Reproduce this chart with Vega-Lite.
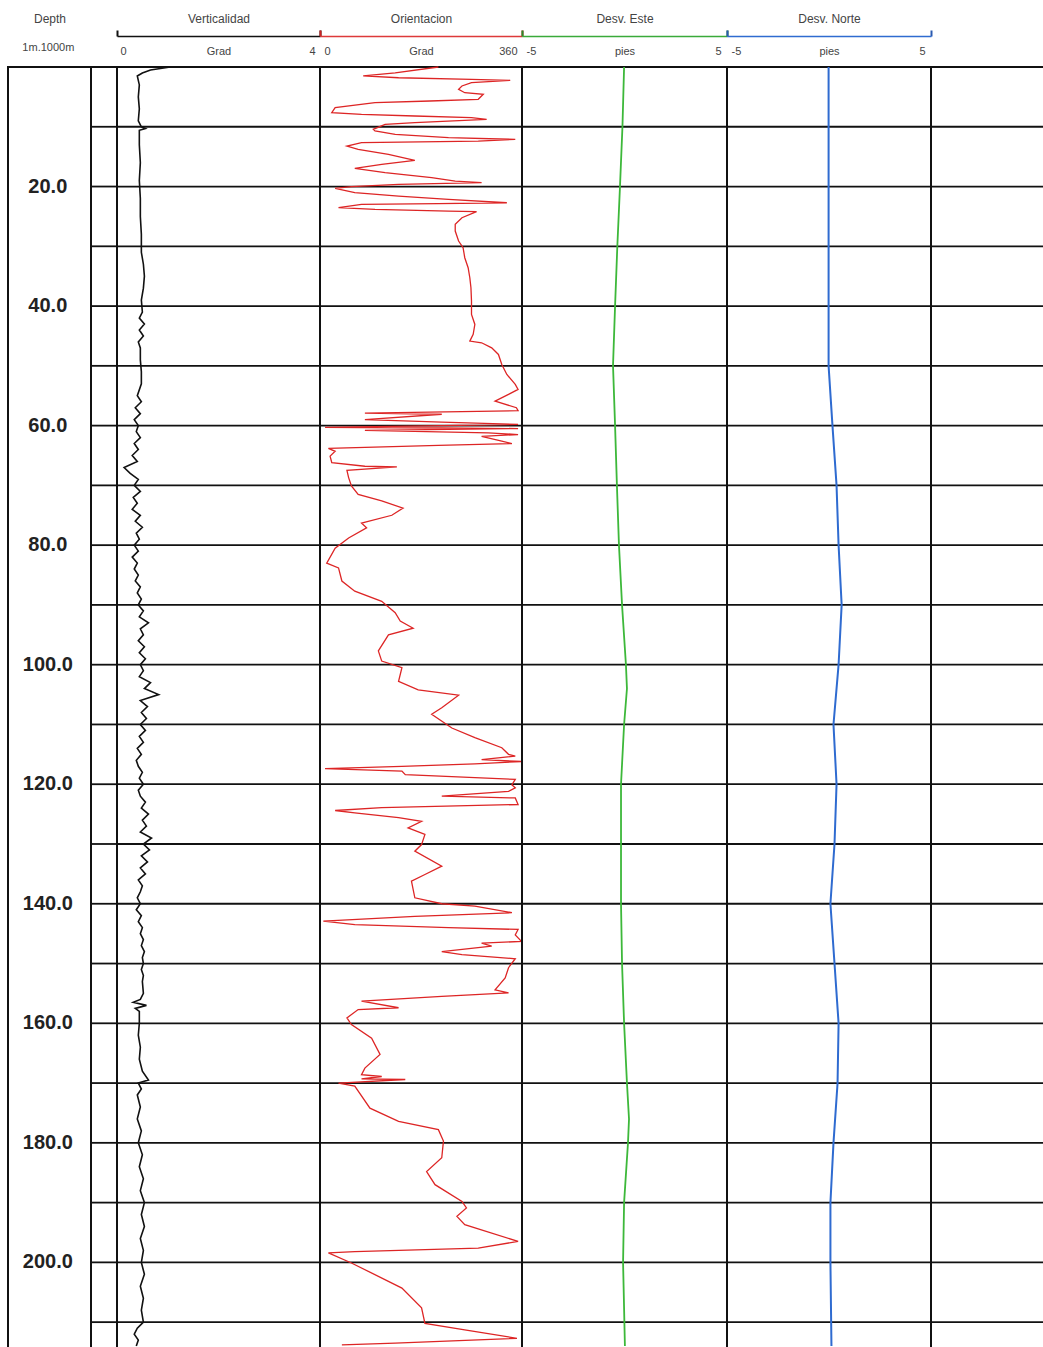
{
"$schema": "https://vega.github.io/schema/vega-lite/v6.json",
"autosize": {"type": "pad"},
"padding": {"left": 7, "top": 11, "right": 0, "bottom": 0},
"background": "white",
"spacing": 0,
"bounds": "flush",
"config": {
  "view": {"stroke": "#111", "strokeWidth": 2},
  "axis": {"labelFont": "Liberation Sans", "titleFont": "Liberation Sans", "labelColor": "#444", "titleColor": "#444", "labelFontSize": 11, "titleFontSize": 12, "titleFontWeight": "normal", "grid": false}
},
"datasets": {
  "grid": [{"depth":10},{"depth":20},{"depth":30},{"depth":40},{"depth":50},{"depth":60},{"depth":70},{"depth":80},{"depth":90},{"depth":100},{"depth":110},{"depth":120},{"depth":130},{"depth":140},{"depth":150},{"depth":160},{"depth":170},{"depth":180},{"depth":190},{"depth":200},{"depth":210}],
  "depthlabels": [{"depth":20,"label":"20.0"},{"depth":40,"label":"40.0"},{"depth":60,"label":"60.0"},{"depth":80,"label":"80.0"},{"depth":100,"label":"100.0"},{"depth":120,"label":"120.0"},{"depth":140,"label":"140.0"},{"depth":160,"label":"160.0"},{"depth":180,"label":"180.0"},{"depth":200,"label":"200.0"}],
  "verticalidad": [{"depth":0,"value":1.05},{"depth":0.5,"value":0.66},{"depth":1,"value":0.5},{"depth":1.5,"value":0.4},{"depth":3,"value":0.44},{"depth":5,"value":0.42},{"depth":7,"value":0.44},{"depth":9,"value":0.42},{"depth":10,"value":0.48},{"depth":10.3,"value":0.56},{"depth":10.6,"value":0.44},{"depth":13,"value":0.44},{"depth":16,"value":0.46},{"depth":19,"value":0.44},{"depth":22,"value":0.46},{"depth":25,"value":0.46},{"depth":28,"value":0.48},{"depth":31,"value":0.48},{"depth":33,"value":0.52},{"depth":35,"value":0.54},{"depth":37,"value":0.52},{"depth":39,"value":0.48},{"depth":41,"value":0.5},{"depth":42,"value":0.44},{"depth":43,"value":0.54},{"depth":44,"value":0.44},{"depth":45,"value":0.52},{"depth":46,"value":0.42},{"depth":47,"value":0.46},{"depth":49,"value":0.46},{"depth":51,"value":0.48},{"depth":53,"value":0.48},{"depth":55,"value":0.4},{"depth":56,"value":0.48},{"depth":57,"value":0.36},{"depth":58,"value":0.46},{"depth":59,"value":0.34},{"depth":60,"value":0.42},{"depth":61,"value":0.38},{"depth":62,"value":0.46},{"depth":63,"value":0.34},{"depth":64,"value":0.42},{"depth":65,"value":0.3},{"depth":66,"value":0.4},{"depth":67,"value":0.14},{"depth":68,"value":0.26},{"depth":69,"value":0.42},{"depth":70,"value":0.34},{"depth":71,"value":0.46},{"depth":72,"value":0.32},{"depth":73,"value":0.4},{"depth":74,"value":0.3},{"depth":75,"value":0.46},{"depth":76,"value":0.36},{"depth":77,"value":0.5},{"depth":78,"value":0.38},{"depth":79,"value":0.44},{"depth":80,"value":0.34},{"depth":81,"value":0.42},{"depth":82,"value":0.3},{"depth":83,"value":0.4},{"depth":84,"value":0.34},{"depth":85,"value":0.42},{"depth":86,"value":0.36},{"depth":87,"value":0.46},{"depth":88,"value":0.4},{"depth":89,"value":0.48},{"depth":90,"value":0.42},{"depth":91,"value":0.52},{"depth":92,"value":0.44},{"depth":93,"value":0.62},{"depth":94,"value":0.46},{"depth":95,"value":0.52},{"depth":96,"value":0.42},{"depth":97,"value":0.54},{"depth":98,"value":0.44},{"depth":99,"value":0.56},{"depth":100,"value":0.46},{"depth":101,"value":0.52},{"depth":102,"value":0.44},{"depth":103,"value":0.66},{"depth":104,"value":0.54},{"depth":105,"value":0.82},{"depth":106,"value":0.46},{"depth":107,"value":0.6},{"depth":108,"value":0.48},{"depth":109,"value":0.58},{"depth":110,"value":0.46},{"depth":111,"value":0.56},{"depth":112,"value":0.44},{"depth":113,"value":0.52},{"depth":114,"value":0.4},{"depth":115,"value":0.48},{"depth":116,"value":0.38},{"depth":117,"value":0.42},{"depth":118,"value":0.5},{"depth":119,"value":0.44},{"depth":120,"value":0.52},{"depth":121,"value":0.42},{"depth":122,"value":0.46},{"depth":123,"value":0.56},{"depth":124,"value":0.48},{"depth":125,"value":0.62},{"depth":126,"value":0.5},{"depth":127,"value":0.58},{"depth":128,"value":0.46},{"depth":129,"value":0.68},{"depth":130,"value":0.52},{"depth":131,"value":0.64},{"depth":132,"value":0.48},{"depth":133,"value":0.6},{"depth":134,"value":0.46},{"depth":135,"value":0.56},{"depth":136,"value":0.42},{"depth":137,"value":0.5},{"depth":138,"value":0.46},{"depth":139,"value":0.4},{"depth":140,"value":0.46},{"depth":141,"value":0.38},{"depth":142,"value":0.48},{"depth":143,"value":0.42},{"depth":144,"value":0.5},{"depth":145,"value":0.46},{"depth":146,"value":0.52},{"depth":147,"value":0.48},{"depth":148,"value":0.54},{"depth":149,"value":0.5},{"depth":150,"value":0.52},{"depth":151,"value":0.48},{"depth":152,"value":0.52},{"depth":153,"value":0.5},{"depth":155,"value":0.52},{"depth":156,"value":0.46},{"depth":156.5,"value":0.32},{"depth":157,"value":0.58},{"depth":157.5,"value":0.36},{"depth":158,"value":0.44},{"depth":160,"value":0.44},{"depth":162,"value":0.42},{"depth":164,"value":0.46},{"depth":166,"value":0.44},{"depth":168,"value":0.5},{"depth":169.5,"value":0.62},{"depth":170,"value":0.42},{"depth":171,"value":0.48},{"depth":172,"value":0.4},{"depth":174,"value":0.46},{"depth":176,"value":0.4},{"depth":178,"value":0.48},{"depth":180,"value":0.42},{"depth":182,"value":0.5},{"depth":184,"value":0.44},{"depth":186,"value":0.52},{"depth":188,"value":0.46},{"depth":190,"value":0.54},{"depth":192,"value":0.48},{"depth":194,"value":0.54},{"depth":196,"value":0.46},{"depth":198,"value":0.52},{"depth":200,"value":0.48},{"depth":202,"value":0.54},{"depth":204,"value":0.46},{"depth":206,"value":0.52},{"depth":208,"value":0.48},{"depth":210,"value":0.52},{"depth":211,"value":0.4},{"depth":212,"value":0.34},{"depth":213,"value":0.42},{"depth":214,"value":0.38}],
  "orientacion": [{"depth":0,"value":211},{"depth":1.0,"value":134},{"depth":1.5,"value":77},{"depth":1.8,"value":140},{"depth":2.07,"value":270},{"depth":2.23,"value":339},{"depth":2.62,"value":270},{"depth":3.18,"value":253},{"depth":3.74,"value":247},{"depth":4.3,"value":258},{"depth":4.57,"value":291},{"depth":5.41,"value":282},{"depth":5.69,"value":196},{"depth":5.97,"value":98},{"depth":6.81,"value":27},{"depth":7.64,"value":21},{"depth":7.92,"value":74},{"depth":8.2,"value":169},{"depth":8.48,"value":270},{"depth":8.76,"value":297},{"depth":9.32,"value":169},{"depth":9.6,"value":116},{"depth":10.43,"value":95},{"depth":10.71,"value":98},{"depth":11.27,"value":134},{"depth":11.83,"value":229},{"depth":12.11,"value":348},{"depth":12.39,"value":282},{"depth":12.66,"value":74},{"depth":13.22,"value":48},{"depth":13.78,"value":68},{"depth":14.62,"value":122},{"depth":15.62,"value":169},{"depth":16.29,"value":110},{"depth":16.96,"value":62},{"depth":17.68,"value":116},{"depth":18.52,"value":199},{"depth":19.08,"value":241},{"depth":19.36,"value":288},{"depth":19.64,"value":140},{"depth":20.03,"value":56},{"depth":20.31,"value":27},{"depth":21.03,"value":62},{"depth":21.59,"value":140},{"depth":22.15,"value":229},{"depth":22.71,"value":333},{"depth":22.87,"value":211},{"depth":22.98,"value":74},{"depth":23.54,"value":33},{"depth":23.82,"value":98},{"depth":24.1,"value":229},{"depth":24.21,"value":279},{"depth":25.22,"value":253},{"depth":26.33,"value":241},{"depth":27.45,"value":241},{"depth":29.12,"value":247},{"depth":30.24,"value":255},{"depth":31.91,"value":258},{"depth":33.58,"value":264},{"depth":35.26,"value":267},{"depth":36.93,"value":269},{"depth":39.16,"value":270},{"depth":41.4,"value":270},{"depth":43.07,"value":276},{"depth":44.74,"value":273},{"depth":45.86,"value":267},{"depth":46.14,"value":288},{"depth":46.98,"value":306},{"depth":48.09,"value":318},{"depth":49.77,"value":324},{"depth":51.44,"value":333},{"depth":53.11,"value":348},{"depth":53.95,"value":353},{"depth":54.78,"value":336},{"depth":55.9,"value":312},{"depth":57.0,"value":350},{"depth":57.5,"value":353},{"depth":57.9,"value":80},{"depth":58.1,"value":217},{"depth":59.0,"value":80},{"depth":59.4,"value":217},{"depth":59.8,"value":353},{"depth":60.3,"value":9},{"depth":60.4,"value":217},{"depth":60.5,"value":353},{"depth":60.8,"value":80},{"depth":61.2,"value":300},{"depth":61.5,"value":353},{"depth":61.8,"value":288},{"depth":62.6,"value":324},{"depth":63.0,"value":342},{"depth":63.3,"value":211},{"depth":63.8,"value":15},{"depth":64.3,"value":27},{"depth":65.1,"value":18},{"depth":66.2,"value":21},{"depth":66.8,"value":80},{"depth":66.9,"value":137},{"depth":67.5,"value":48},{"depth":68.7,"value":51},{"depth":70.1,"value":56},{"depth":71.5,"value":68},{"depth":72.6,"value":110},{"depth":73.8,"value":148},{"depth":75.0,"value":128},{"depth":76.3,"value":74},{"depth":77.1,"value":83},{"depth":78.8,"value":51},{"depth":80.5,"value":27},{"depth":83.0,"value":12},{"depth":83.8,"value":33},{"depth":86.0,"value":39},{"depth":87.7,"value":62},{"depth":89.4,"value":110},{"depth":91.3,"value":134},{"depth":92.7,"value":143},{"depth":93.9,"value":166},{"depth":95.0,"value":122},{"depth":97.7,"value":104},{"depth":99.4,"value":110},{"depth":100.5,"value":146},{"depth":102.8,"value":140},{"depth":104.2,"value":175},{"depth":105.1,"value":247},{"depth":107.2,"value":217},{"depth":108.3,"value":199},{"depth":110.6,"value":235},{"depth":112.2,"value":276},{"depth":113.9,"value":324},{"depth":115.0,"value":336},{"depth":115.3,"value":348},{"depth":115.9,"value":288},{"depth":116.2,"value":359},{"depth":116.6,"value":276},{"depth":117.0,"value":146},{"depth":117.4,"value":9},{"depth":117.8,"value":146},{"depth":118.4,"value":152},{"depth":119.2,"value":348},{"depth":120.1,"value":342},{"depth":120.6,"value":348},{"depth":121.2,"value":336},{"depth":122.0,"value":217},{"depth":122.3,"value":348},{"depth":123.4,"value":353},{"depth":123.9,"value":110},{"depth":124.4,"value":27},{"depth":124.8,"value":62},{"depth":125.6,"value":140},{"depth":126.2,"value":181},{"depth":127.3,"value":157},{"depth":128.4,"value":187},{"depth":130.1,"value":181},{"depth":131.2,"value":169},{"depth":133.7,"value":217},{"depth":135.1,"value":187},{"depth":136.2,"value":163},{"depth":139.0,"value":169},{"depth":140.0,"value":217},{"depth":140.4,"value":276},{"depth":141.5,"value":342},{"depth":142.1,"value":169},{"depth":142.9,"value":6},{"depth":143.5,"value":62},{"depth":144.0,"value":229},{"depth":144.3,"value":353},{"depth":145.2,"value":348},{"depth":146.3,"value":359},{"depth":146.6,"value":288},{"depth":147.1,"value":306},{"depth":148.0,"value":217},{"depth":148.5,"value":253},{"depth":149.2,"value":348},{"depth":150.7,"value":336},{"depth":152.4,"value":330},{"depth":154.4,"value":312},{"depth":154.9,"value":336},{"depth":155.5,"value":217},{"depth":156.3,"value":74},{"depth":157.4,"value":140},{"depth":157.7,"value":68},{"depth":159.1,"value":48},{"depth":160.2,"value":56},{"depth":162.5,"value":92},{"depth":165.2,"value":107},{"depth":167.5,"value":80},{"depth":168.6,"value":74},{"depth":168.9,"value":110},{"depth":169.3,"value":74},{"depth":169.4,"value":152},{"depth":170.0,"value":33},{"depth":170.5,"value":62},{"depth":174.2,"value":89},{"depth":176.4,"value":140},{"depth":177.8,"value":211},{"depth":179.7,"value":220},{"depth":182.5,"value":217},{"depth":184.8,"value":190},{"depth":187.0,"value":205},{"depth":189.8,"value":253},{"depth":190.9,"value":261},{"depth":192.3,"value":244},{"depth":193.7,"value":258},{"depth":196.5,"value":353},{"depth":197.6,"value":282},{"depth":198.2,"value":62},{"depth":198.4,"value":15},{"depth":200.1,"value":56},{"depth":204.3,"value":146},{"depth":207.6,"value":181},{"depth":210.2,"value":187},{"depth":211.3,"value":258},{"depth":212.7,"value":351},{"depth":213.5,"value":134},{"depth":213.8,"value":39}],
  "este": [{"depth":0,"value":-0.02},{"depth":10,"value":-0.1},{"depth":20,"value":-0.22},{"depth":30,"value":-0.35},{"depth":40,"value":-0.46},{"depth":50,"value":-0.56},{"depth":60,"value":-0.46},{"depth":70,"value":-0.37},{"depth":80,"value":-0.27},{"depth":90,"value":-0.12},{"depth":100,"value":0.07},{"depth":104,"value":0.12},{"depth":110,"value":-0.02},{"depth":120,"value":-0.17},{"depth":130,"value":-0.17},{"depth":140,"value":-0.17},{"depth":150,"value":-0.12},{"depth":160,"value":-0.02},{"depth":170,"value":0.12},{"depth":176,"value":0.22},{"depth":180,"value":0.17},{"depth":190,"value":-0.02},{"depth":200,"value":-0.07},{"depth":214,"value":0.02}],
  "norte": [{"depth":0,"value":-0.02},{"depth":50,"value":-0.02},{"depth":60,"value":0.17},{"depth":70,"value":0.37},{"depth":80,"value":0.47},{"depth":90,"value":0.62},{"depth":100,"value":0.47},{"depth":110,"value":0.22},{"depth":120,"value":0.37},{"depth":130,"value":0.27},{"depth":140,"value":0.07},{"depth":150,"value":0.27},{"depth":160,"value":0.47},{"depth":170,"value":0.42},{"depth":180,"value":0.22},{"depth":190,"value":0.07},{"depth":200,"value":0.07},{"depth":214,"value":0.12}]
},
"hconcat": [
  {
    "width": 83, "height": 1291,
    "data": {"name": "depthlabels"},
    "mark": {"type": "text", "font": "Liberation Sans", "fontWeight": "bold", "fontSize": 20, "color": "#222", "baseline": "middle"},
    "encoding": {
      "text": {"field": "label"},
      "x": {"datum": 0.48, "type": "quantitative", "scale": {"domain": [0, 1]},
        "axis": {"orient": "top", "offset": 31, "values": [0.48], "labelExpr": "'1m.1000m'", "domain": false, "ticks": false, "title": "Depth", "titleY": -18, "titleBaseline": "middle", "labelBaseline": "middle", "labelPadding": -11, "labelFontSize": 11}},
      "y": {"field": "depth", "type": "quantitative", "scale": {"domain": [0, 216], "reverse": true}, "axis": null}
    }
  },
  {
    "width": 26, "height": 1291,
    "data": {"name": "grid"},
    "mark": {"type": "rule", "color": "#111", "strokeWidth": 1.8},
    "encoding": {"y": {"field": "depth", "type": "quantitative", "scale": {"domain": [0, 216], "reverse": true}, "axis": null}}
  },
  {
    "width": 203, "height": 1291,
    "layer": [
      {"data": {"name": "grid"}, "mark": {"type": "rule", "color": "#111", "strokeWidth": 1.8},
       "encoding": {"y": {"field": "depth", "type": "quantitative", "scale": {"domain": [0, 216], "reverse": true}, "axis": null}}},
      {"data": {"name": "verticalidad"}, "mark": {"type": "line", "color": "#111", "strokeWidth": 1.6},
       "encoding": {
         "x": {"field": "value", "type": "quantitative", "scale": {"domain": [0, 4]},
           "axis": {"orient": "top", "offset": 31, "values": [0, 2, 4], "labelExpr": "datum.value == 2 ? 'Grad' : datum.value == 0 ? '0' : '4'", "title": "Verticalidad", "titleY": -18, "titleBaseline": "middle", "domainColor": "#111", "domainWidth": 1.5, "tickColor": "#111", "tickWidth": 2, "tickSize": 6, "tickOpacity": {"condition": {"test": "datum.value == 2", "value": 0}, "value": 1}, "labelAlign": {"condition": [{"test": "datum.value == 0", "value": "left"}, {"test": "datum.value == 4", "value": "right"}], "value": "center"}, "labelOffset": {"condition": [{"test": "datum.value == 0", "value": 3}, {"test": "datum.value == 4", "value": -5}], "value": 0}, "labelBaseline": "middle", "labelPadding": -21, "labelFlush": false, "labelOverlap": false}},
         "y": {"field": "depth", "type": "quantitative", "scale": {"domain": [0, 216], "reverse": true}, "axis": null},
         "order": {"field": "depth"}
       }}
    ]
  },
  {
    "width": 202, "height": 1291,
    "layer": [
      {"data": {"name": "grid"}, "mark": {"type": "rule", "color": "#111", "strokeWidth": 1.8},
       "encoding": {"y": {"field": "depth", "type": "quantitative", "scale": {"domain": [0, 216], "reverse": true}, "axis": null}}},
      {"data": {"name": "orientacion"}, "mark": {"type": "line", "color": "#dd2525", "strokeWidth": 1.3},
       "encoding": {
         "x": {"field": "value", "type": "quantitative", "scale": {"domain": [0, 360]},
           "axis": {"orient": "top", "offset": 31, "values": [0, 180, 360], "labelExpr": "datum.value == 180 ? 'Grad' : datum.value == 0 ? '0' : '360'", "title": "Orientacion", "titleY": -18, "titleBaseline": "middle", "domainColor": "#dd3a3a", "domainWidth": 1.5, "tickColor": "#cc2222", "tickWidth": 2, "tickSize": 6, "tickOpacity": {"condition": {"test": "datum.value == 180", "value": 0}, "value": 1}, "labelAlign": {"condition": [{"test": "datum.value == 0", "value": "left"}, {"test": "datum.value == 360", "value": "right"}], "value": "center"}, "labelOffset": {"condition": [{"test": "datum.value == 0", "value": 4}, {"test": "datum.value == 360", "value": -5}], "value": 0}, "labelBaseline": "middle", "labelPadding": -21, "labelFlush": false, "labelOverlap": false}},
         "y": {"field": "depth", "type": "quantitative", "scale": {"domain": [0, 216], "reverse": true}, "axis": null},
         "order": {"field": "depth"}
       }}
    ]
  },
  {
    "width": 205, "height": 1291,
    "layer": [
      {"data": {"name": "grid"}, "mark": {"type": "rule", "color": "#111", "strokeWidth": 1.8},
       "encoding": {"y": {"field": "depth", "type": "quantitative", "scale": {"domain": [0, 216], "reverse": true}, "axis": null}}},
      {"data": {"name": "este"}, "mark": {"type": "line", "color": "#3db83a", "strokeWidth": 1.8},
       "encoding": {
         "x": {"field": "value", "type": "quantitative", "scale": {"domain": [-5, 5]},
           "axis": {"orient": "top", "offset": 31, "values": [-5, 0, 5], "labelExpr": "datum.value == 0 ? 'pies' : datum.value < 0 ? '-5' : '5'", "title": "Desv. Este", "titleY": -18, "titleBaseline": "middle", "domainColor": "#3aaa3a", "domainWidth": 1.5, "tickColor": "#2a8a2a", "tickWidth": 2, "tickSize": 6, "tickOpacity": {"condition": {"test": "datum.value == 0", "value": 0}, "value": 1}, "labelAlign": {"condition": [{"test": "datum.value == -5", "value": "left"}, {"test": "datum.value == 5", "value": "right"}], "value": "center"}, "labelOffset": {"condition": [{"test": "datum.value == -5", "value": 4}, {"test": "datum.value == 5", "value": -6}], "value": 0}, "labelBaseline": "middle", "labelPadding": -21, "labelFlush": false, "labelOverlap": false}},
         "y": {"field": "depth", "type": "quantitative", "scale": {"domain": [0, 216], "reverse": true}, "axis": null},
         "order": {"field": "depth"}
       }}
    ]
  },
  {
    "width": 204, "height": 1291,
    "layer": [
      {"data": {"name": "grid"}, "mark": {"type": "rule", "color": "#111", "strokeWidth": 1.8},
       "encoding": {"y": {"field": "depth", "type": "quantitative", "scale": {"domain": [0, 216], "reverse": true}, "axis": null}}},
      {"data": {"name": "norte"}, "mark": {"type": "line", "color": "#2f6bd0", "strokeWidth": 2},
       "encoding": {
         "x": {"field": "value", "type": "quantitative", "scale": {"domain": [-5, 5]},
           "axis": {"orient": "top", "offset": 31, "values": [-5, 0, 5], "labelExpr": "datum.value == 0 ? 'pies' : datum.value < 0 ? '-5' : '5'", "title": "Desv. Norte", "titleY": -18, "titleBaseline": "middle", "domainColor": "#2f6bd0", "domainWidth": 1.5, "tickColor": "#2a5ab0", "tickWidth": 2, "tickSize": 6, "tickOpacity": {"condition": {"test": "datum.value == 0", "value": 0}, "value": 1}, "labelAlign": {"condition": [{"test": "datum.value == -5", "value": "left"}, {"test": "datum.value == 5", "value": "right"}], "value": "center"}, "labelOffset": {"condition": [{"test": "datum.value == -5", "value": 4}, {"test": "datum.value == 5", "value": -6}], "value": 0}, "labelBaseline": "middle", "labelPadding": -21, "labelFlush": false, "labelOverlap": false}},
         "y": {"field": "depth", "type": "quantitative", "scale": {"domain": [0, 216], "reverse": true}, "axis": null},
         "order": {"field": "depth"}
       }}
    ]
  },
  {
    "width": 113, "height": 1291,
    "data": {"name": "grid"},
    "mark": {"type": "rule", "color": "#111", "strokeWidth": 1.8},
    "encoding": {"y": {"field": "depth", "type": "quantitative", "scale": {"domain": [0, 216], "reverse": true}, "axis": null}}
  }
]
}
